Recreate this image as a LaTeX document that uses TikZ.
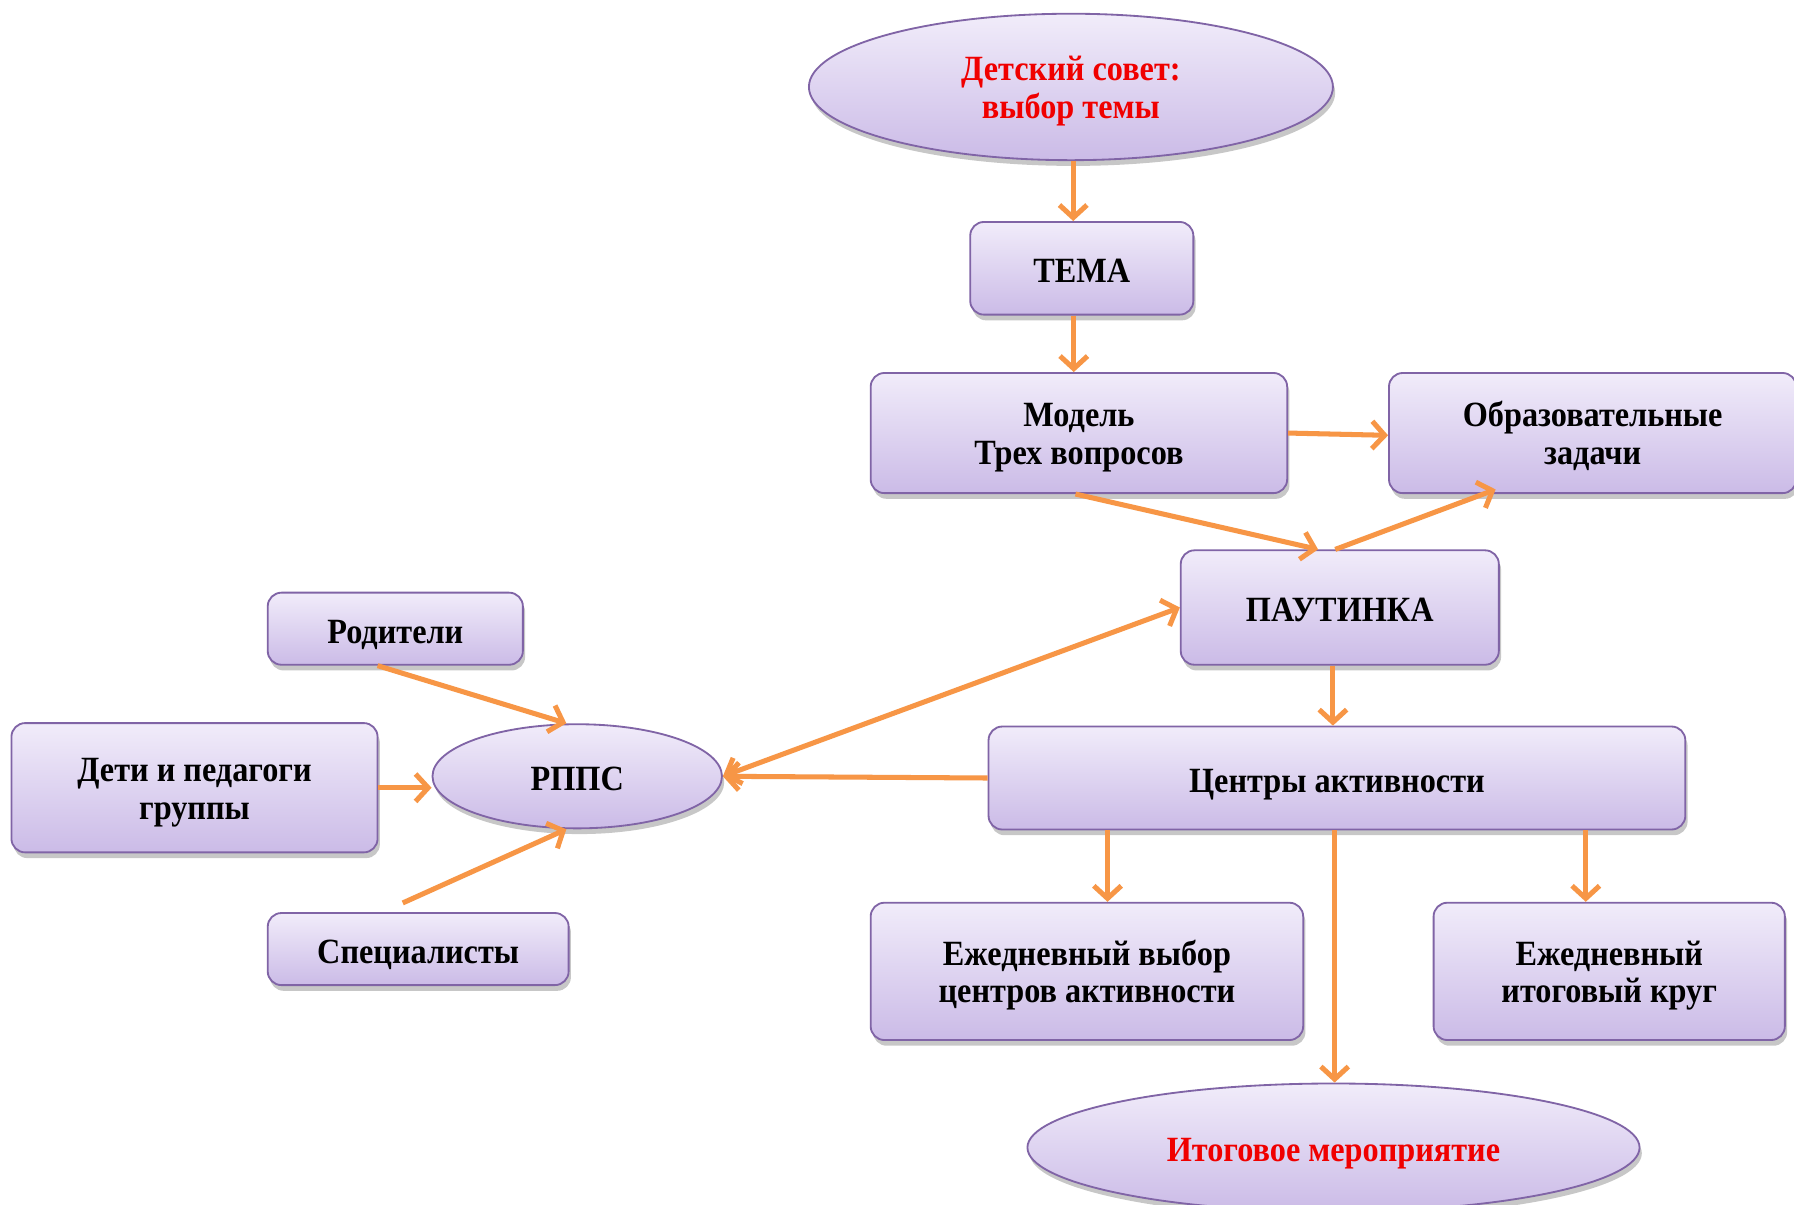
\documentclass[tikz,border=0pt]{standalone}
\usepackage{fontspec}
\setmainfont{Liberation Serif}[FakeStretch=0.91]
\usetikzlibrary{shapes.geometric,arrows.meta,shadows,calc}
\definecolor{boxtop}{RGB}{241,236,250}
\definecolor{boxbot}{RGB}{203,187,231}
\definecolor{boxline}{RGB}{128,100,166}
\definecolor{arr}{RGB}{247,150,70}
\definecolor{redtxt}{RGB}{240,0,0}
\begin{document}
\begin{tikzpicture}[x=0.5pt,y=-0.5pt,
  base/.style={top color=boxtop,bottom color=boxbot,draw=boxline,line width=0.8pt,align=center,
     font=\fontsize{15.5}{16.5}\selectfont\bfseries, inner sep=0pt,
     drop shadow={shadow xshift=1pt,shadow yshift=-2.5pt,opacity=0.22,fill=black}},
  one/.style={text height=12.5pt,text depth=0pt},
  two/.style={text height=27.5pt,text depth=0pt},
  rbox/.style={base,rectangle,rounded corners=6pt},
  ell/.style={base,ellipse},
  tip/.tip={Straight Barb[length=5.5pt,width=12pt]},
  conn/.style={draw=arr,line width=2.2pt,-tip},
  conntwo/.style={draw=arr,line width=2.2pt,tip-tip},
]
\useasboundingbox (0,0) rectangle (1568,1053);
\fill[white] (0,0) rectangle (1568,1053);
\clip (0,0) rectangle (1568,1053);

\node[ell,two,minimum width=229pt,minimum height=64pt,text=redtxt] (sovet) at (936,76) {Детский совет:\\выбор темы};
\node[rbox,one,minimum width=97.5pt,minimum height=40.5pt] (tema) at (945.5,234.5) {ТЕМА};
\node[rbox,two,minimum width=182pt,minimum height=52.5pt] (model) at (943,378.5) {Модель\\Трех вопросов};
\node[rbox,two,minimum width=178pt,minimum height=52.5pt] (obraz) at (1392,378.5) {Образовательные\\задачи};
\node[rbox,one,minimum width=139pt,minimum height=50pt] (paut) at (1171,531) {ПАУТИНКА};
\node[rbox,one,minimum width=304.5pt,minimum height=45pt] (centr) at (1168.5,680) {Центры активности};
\node[ell,one,minimum width=126.5pt,minimum height=45.5pt] (rpps) at (504.5,678.5) {РППС};
\node[rbox,one,minimum width=111.5pt,minimum height=31.5pt] (rod) at (345.5,549.5) {Родители};
\node[rbox,two,minimum width=160pt,minimum height=56.5pt] (deti) at (170,688.5) {Дети и педагоги\\группы};
\node[rbox,one,minimum width=131.5pt,minimum height=31.5pt] (spec) at (365.5,829.5) {Специалисты};
\node[rbox,two,minimum width=189pt,minimum height=60pt] (ezv) at (950,849) {Ежедневный выбор\\центров активности};
\node[rbox,two,minimum width=153.5pt,minimum height=60pt] (ezk) at (1406.5,849) {Ежедневный\\итоговый круг};
\node[ell,one,minimum width=267.5pt,minimum height=56pt,text=redtxt] (itog) at (1165.5,1003) {Итоговое мероприятие};

\draw[conn] ([xshift=1pt]sovet.south) -- ([xshift=1pt]sovet.south |- tema.north);
\draw[conn] ([xshift=-3.5pt]tema.south) -- ([xshift=-3.5pt]tema.south |- model.north);
\draw[conn] (model.east) -- ([yshift=-1pt]obraz.west);
\draw[conn] ([xshift=-1.5pt]model.south) -- ([xshift=-9.5pt]paut.north);
\draw[conn] ([xshift=-2pt]paut.north) -- ([xshift=47pt,yshift=2pt]obraz.south west);
\draw[conntwo] (rpps.east) -- (paut.west);
\draw[conn] (centr.west) -- (rpps.east);
\draw[conn] ([xshift=-3pt]paut.south) -- ([xshift=-3pt]paut.south |- centr.north);
\draw[conn] ([xshift=-7.75pt]rod.south) -- ([xshift=-4.75pt]rpps.north);
\draw[conn] (deti.east) -- (deti.east -| rpps.west);
\draw[conn] ([shift={(-6.75pt,4pt)}]spec.north) -- ([xshift=-4.75pt]rpps.south);
\draw[conn] ([xshift=-100.25pt]centr.south) -- ([xshift=-100.25pt]centr.south |- ezv.north);
\draw[conn] ([xshift=-1pt]centr.south) -- ([xshift=-1pt]centr.south |- itog.north);
\draw[conn] ([xshift=108.75pt]centr.south) -- ([xshift=108.75pt]centr.south |- ezk.north);
\end{tikzpicture}
\end{document}
